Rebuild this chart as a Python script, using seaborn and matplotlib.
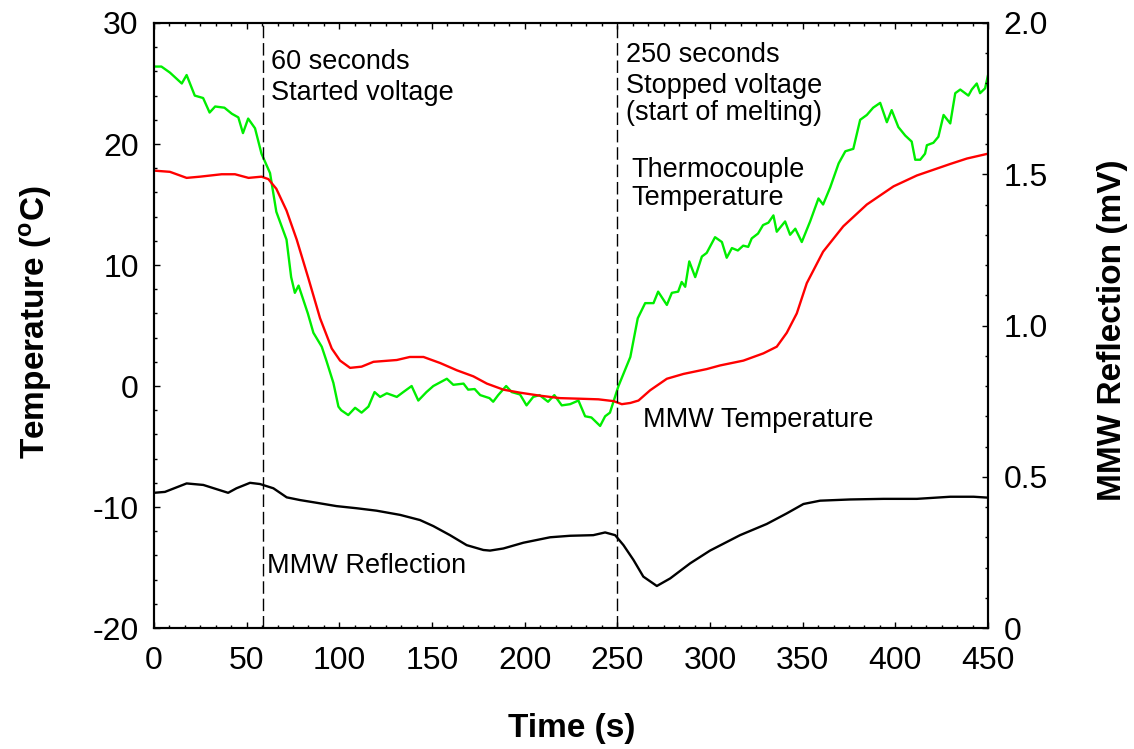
import matplotlib
matplotlib.use("Agg")
import matplotlib.pyplot as plt
from matplotlib.ticker import MultipleLocator, AutoMinorLocator, FixedLocator
import seaborn as sns
import pandas as pd

# ---- data ----
t_green = [0, 4, 8.6, 15, 17.6, 22, 26.5, 30, 33, 38, 42, 45.5, 48, 50.8, 54.5, 58, 62.6, 66, 71.5, 74, 76, 78, 83, 86,
           90.5, 93, 96.8, 99.5, 101, 104.8, 108.5, 112, 115.7, 119, 122, 125.6, 131, 134.5, 139, 142.6, 147, 150.7,
           158, 161.5, 167, 169.5, 173, 176, 181, 183, 185.7, 190, 193, 197.5, 201, 204.6, 208, 212.6, 216, 220,
           224.5, 229, 232.6, 236, 240.7, 243.4, 246, 250.6, 257, 261, 265, 269.5, 272, 276.7, 279.4, 282.8, 284.7,
           286.6, 288.8, 292, 295.6, 298.2, 302.7, 306.4, 309, 311.8, 315, 317.9, 320.6, 322.5, 325.9, 328.6, 331.5,
           334.2, 336, 340.5, 343.2, 346, 349.5, 354, 358.5, 361, 364.8, 369.4, 373, 377.3, 381, 384.6, 388, 391.8,
           395.4, 398, 401.6, 405.3, 408.8, 410.7, 413.4, 416, 417, 420.5, 423.2, 426, 429.6, 432.3, 435, 439.4,
           441.2, 443.9, 445.7, 448.4, 450]
temp_green = [26.4, 26.4, 25.9, 25.0, 25.7, 24.0, 23.8, 22.6, 23.1, 23.0, 22.5, 22.2, 20.9, 22.1, 21.3, 19.2, 17.6,
              14.4, 12.1, 9.0, 7.7, 8.3, 6.0, 4.4, 3.25, 2.1, 0.25, -1.7, -2.0, -2.4, -1.8, -2.2, -1.7, -0.5, -0.9,
              -0.6, -0.9, -0.5, 0.0, -1.2, -0.5, 0.0, 0.6, 0.1, 0.2, -0.3, -0.25, -0.75, -1.0, -1.3, -0.75, 0.0,
              -0.5, -0.7, -1.6, -0.9, -0.75, -1.3, -0.75, -1.6, -1.5, -1.2, -2.5, -2.6, -3.3, -2.5, -2.2, 0.0, 2.4,
              5.6, 6.85, 6.85, 7.8, 6.7, 7.7, 7.8, 8.6, 8.2, 10.3, 9.0, 10.7, 11.0, 12.3, 11.9, 10.6, 11.4, 11.2,
              11.6, 11.5, 12.2, 12.6, 13.3, 13.5, 14.1, 12.75, 13.6, 12.5, 13.0, 11.9, 13.6, 15.5, 15.0, 16.4, 18.4,
              19.4, 19.6, 22.0, 22.4, 23.0, 23.4, 21.8, 22.8, 21.4, 20.7, 20.2, 18.7, 18.7, 19.2, 19.9, 20.1, 20.6,
              22.4, 21.7, 24.2, 24.5, 24.0, 24.5, 25.0, 24.2, 24.6, 25.7]

t_red = [0, 8.6, 17.6, 24.8, 36.5, 43.7, 51, 58, 61.7, 66, 71.5, 77, 83.3, 89.6, 95.9, 100.4, 105.8, 112, 118.4, 131,
         138, 145.4, 154.4, 163.4, 172.3, 179.6, 188.5, 197.5, 208.3, 219, 230, 239.8, 248, 252.4, 257, 261.4, 267.7,
         276.7, 285.7, 298.2, 305.4, 318, 328.8, 336, 341.4, 346.8, 352.2, 361, 371.9, 384.6, 399, 411.6, 429.6,
         438.6, 450]
temp_red = [17.8, 17.7, 17.2, 17.3, 17.5, 17.5, 17.2, 17.3, 17.1, 16.3, 14.5, 12.1, 8.9, 5.6, 3.1, 2.1, 1.5, 1.6, 2.0,
            2.15, 2.4, 2.4, 1.9, 1.3, 0.8, 0.2, -0.3, -0.55, -0.8, -1.0, -1.05, -1.1, -1.25, -1.5, -1.4, -1.2, -0.35,
            0.6, 1.0, 1.4, 1.7, 2.1, 2.7, 3.25, 4.4, 6.0, 8.5, 11.1, 13.2, 15.0, 16.5, 17.4, 18.35, 18.8, 19.2]

t_black = [0, 5.9, 17.6, 26.6, 33.8, 40, 44.5, 51.8, 57.2, 64.4, 71.6, 78.8, 87.8, 98.5, 109.3, 120, 132.8, 143.5,
           150.7, 159.7, 168.7, 177.7, 181.3, 188.5, 199.3, 213.7, 224.5, 237, 243.4, 248.8, 253.3, 258.7, 264,
           271.3, 278.5, 289.3, 300, 316.2, 330.6, 341.4, 350.4, 359.4, 375.6, 393.6, 411.6, 429.6, 442.2, 450]
refl_black = [0.447, 0.45, 0.478, 0.473, 0.459, 0.447, 0.462, 0.48, 0.476, 0.462, 0.432, 0.423, 0.414, 0.403, 0.396,
              0.388, 0.374, 0.357, 0.337, 0.307, 0.274, 0.258, 0.256, 0.263, 0.282, 0.3, 0.305, 0.307, 0.316, 0.307,
              0.274, 0.225, 0.17, 0.139, 0.164, 0.214, 0.256, 0.307, 0.344, 0.379, 0.41, 0.421, 0.425, 0.427, 0.427,
              0.434, 0.434, 0.431]

event_times = [59, 250]

x_ticks = [0, 50, 100, 150, 200, 250, 300, 350, 400, 450]
y_left_ticks = [-20, -10, 0, 10, 20, 30]
y_right_ticks = [0, 0.5, 1.0, 1.5, 2.0]
y_right_labels = ["0", "0.5", "1.0", "1.5", "2.0"]

# annotation lines: (text, x, y-baseline in temperature units)
annotations = [
    ("60 seconds", 62.9, 26.2),
    ("Started voltage", 62.9, 23.64),
    ("250 seconds", 254.6, 26.75),
    ("Stopped voltage", 254.6, 24.24),
    ("(start of melting)", 254.6, 21.98),
    ("Thermocouple", 257.3, 17.3),
    ("Temperature", 257.3, 14.96),
    ("MMW Temperature", 264.0, -3.41),
    ("MMW Reflection", 60.8, -15.48),
]

# ---- style ----
sns.set_style("ticks")
plt.rcParams["font.family"] = ["Liberation Sans", "DejaVu Sans"]
plt.rcParams["mathtext.fontset"] = "custom"
plt.rcParams["mathtext.rm"] = "Liberation Sans"
plt.rcParams["mathtext.bf"] = "Liberation Sans:bold"
plt.rcParams["axes.unicode_minus"] = False
plt.rcParams["text.color"] = "black"
plt.rcParams["xtick.color"] = "black"
plt.rcParams["ytick.color"] = "black"
plt.rcParams["xtick.labelcolor"] = "black"
plt.rcParams["ytick.labelcolor"] = "black"
plt.rcParams["axes.edgecolor"] = "black"

fig = plt.figure(figsize=(11.34, 7.49), dpi=100)
fig.patch.set_facecolor("white")
ax = fig.add_axes([0.1358, 0.1615, 0.8713 - 0.1358, 0.9693 - 0.1615])
ax2 = ax.twinx()

df_g = pd.DataFrame({"t": t_green, "v": temp_green})
df_r = pd.DataFrame({"t": t_red, "v": temp_red})
df_b = pd.DataFrame({"t": t_black, "v": refl_black})

sns.lineplot(data=df_g, x="t", y="v", ax=ax, color="#00EE00", lw=1.7, sort=False, estimator=None)
sns.lineplot(data=df_r, x="t", y="v", ax=ax, color="#FF0000", lw=1.7, sort=False, estimator=None)
sns.lineplot(data=df_b, x="t", y="v", ax=ax2, color="black", lw=1.7, sort=False, estimator=None)

for et in event_times:
    ax.axvline(et, color="black", lw=1.0, linestyle=(0, (9, 3.5)))

ax.set_xlim(0, 450)
ax.set_ylim(-20, 30)
ax2.set_ylim(0, 2.0)

ax.xaxis.set_major_locator(FixedLocator(x_ticks))
ax.xaxis.set_minor_locator(AutoMinorLocator(6))
ax.yaxis.set_major_locator(FixedLocator(y_left_ticks))
ax.yaxis.set_minor_locator(MultipleLocator(2))
ax2.yaxis.set_major_locator(FixedLocator(y_right_ticks))
ax2.set_yticklabels(y_right_labels)
ax2.yaxis.set_minor_locator(MultipleLocator(0.1))

ax.set_xlabel("")
ax.set_ylabel("")
ax2.set_ylabel("")

ax.tick_params(axis="both", which="both", direction="in", top=True, right=False, labelsize=23,
               color="black", labelcolor="black")
ax.tick_params(axis="both", which="major", length=4, width=1.0)
ax.tick_params(axis="both", which="minor", length=2.5, width=1.0)
ax.tick_params(axis="x", which="major", pad=13)
ax.tick_params(axis="y", which="major", pad=11)
ax2.tick_params(axis="y", which="both", direction="in", labelsize=23, color="black", labelcolor="black")
ax2.tick_params(axis="y", which="major", length=4, width=1.0, pad=11)
ax2.tick_params(axis="y", which="minor", length=2.5, width=1.0)

for a in (ax, ax2):
    for s in a.spines.values():
        s.set_visible(True)
        s.set_linewidth(1.5)
        s.set_color("black")

for txt, x, y in annotations:
    ax.text(x, y, txt, fontsize=19.5, ha="left", va="baseline", color="black")

fig.text(572 / 1134, 1 - 728 / 749, "Time (s)", fontsize=24, fontweight="bold", ha="center", va="center",
         color="black")
fig.text(35 / 1134, 1 - 322 / 749, r"Temperature ($\mathbf{^o}$C)", fontsize=24, fontweight="bold",
         ha="center", va="center", rotation=90, color="black")
fig.text(1112 / 1134, 1 - 330 / 749, "MMW Reflection (mV)", fontsize=24, fontweight="bold",
         ha="center", va="center", rotation=90, color="black")

fig.savefig("out.png", dpi=100, facecolor="white")
